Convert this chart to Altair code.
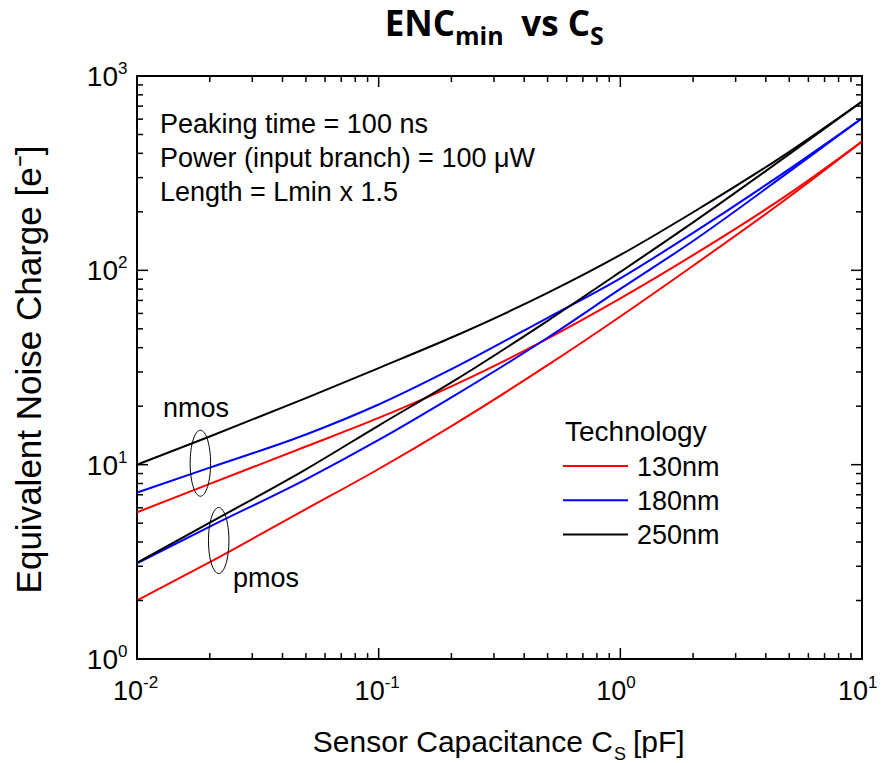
import altair as alt
import pandas as pd

# Sensor capacitance grid [pF]
cs = [0.01, 0.02, 0.05, 0.1, 0.2, 0.5, 1, 2, 5, 10]

# Minimum equivalent noise charge [e-] for each node and input-device type
nmos_130 = [5.69, 7.96, 12.4, 17.4, 25.3, 44.5, 71.7, 119.7, 248, 460]
nmos_180 = [7.18, 9.65, 14.3, 20.4, 31.0, 57.0, 91.0, 156, 332, 606]
nmos_250 = [10.0, 13.97, 22.0, 31.4, 45.1, 76.5, 120, 199, 407, 738]
pmos_130 = [2.0, 3.15, 5.9, 9.5, 15.8, 32.5, 57.9, 105.6, 239, 460]
pmos_180 = [3.11, 4.80, 8.40, 13.4, 22.2, 45.0, 80.2, 141.6, 322, 606]
pmos_250 = [3.13, 5.03, 9.46, 15.9, 26.5, 55.0, 98.1, 176.6, 396, 738]

techs = ["130nm", "180nm", "250nm"]
tech_colors = ["#ff0000", "#0000ff", "#000000"]

# Axis tick values
x_major = [0.01, 0.1, 1, 10]
x_exp = ["-2", "-1", "0", "1"]
x_minor = [0.02, 0.03, 0.04, 0.05, 0.06, 0.07, 0.08, 0.09,
           0.2, 0.3, 0.4, 0.5, 0.6, 0.7, 0.8, 0.9,
           2, 3, 4, 5, 6, 7, 8, 9]
y_major = [1, 10, 100, 1000]
y_exp = ["0", "1", "2", "3"]
y_minor = [2, 3, 4, 5, 6, 7, 8, 9,
           20, 30, 40, 50, 60, 70, 80, 90,
           200, 300, 400, 500, 600, 700, 800, 900]

notes = ["Peaking time = 100 ns", "Power (input branch) = 100 \u03bcW", "Length = Lmin x 1.5"]

rows = []
series = {
    ("nmos", "130nm"): nmos_130, ("nmos", "180nm"): nmos_180, ("nmos", "250nm"): nmos_250,
    ("pmos", "130nm"): pmos_130, ("pmos", "180nm"): pmos_180, ("pmos", "250nm"): pmos_250,
}
for (dev, tech), vals in series.items():
    for c, v in zip(cs, vals):
        rows.append({"cs": c, "enc": v, "tech": tech, "device": dev})
df = pd.DataFrame(rows)

W, H = 725, 583
FONT = "Liberation Sans"
TFONT = "Open Sans"
MAJ, MIN = 11, 6

xs = alt.Scale(type="log", domain=[0.01, 10], nice=False)
ys = alt.Scale(type="log", domain=[1, 1000], nice=False)
cscale = alt.Scale(domain=techs, range=tech_colors)

layers = []

# ENC curves
layers.append(
    alt.Chart(df).mark_line(strokeWidth=2, interpolate="monotone", clip=True).encode(
        x=alt.X("cs:Q", scale=xs, axis=None),
        y=alt.Y("enc:Q", scale=ys, axis=None),
        color=alt.Color("tech:N", scale=cscale, legend=None),
        detail="device:N",
    )
)

# Inward ticks on all four sides
def x_ticks(vals, length):
    base = alt.Chart(pd.DataFrame({"v": vals})).mark_rule(color="black", strokeWidth=1.5).encode(
        x=alt.X("v:Q", scale=xs, axis=None))
    return [base.encode(y=alt.value(H), y2=alt.value(H - length)),
            base.encode(y=alt.value(0), y2=alt.value(length))]

def y_ticks(vals, length):
    base = alt.Chart(pd.DataFrame({"v": vals})).mark_rule(color="black", strokeWidth=1.5).encode(
        y=alt.Y("v:Q", scale=ys, axis=None))
    return [base.encode(x=alt.value(0), x2=alt.value(length)),
            base.encode(x=alt.value(W), x2=alt.value(W - length))]

layers += x_ticks(x_major, MAJ) + x_ticks(x_minor, MIN)
layers += y_ticks(y_major, MAJ) + y_ticks(y_minor, MIN)

# Power-of-ten tick labels
xl = pd.DataFrame({"v": x_major, "e": x_exp, "b": ["10"] * 4})
layers.append(alt.Chart(xl).mark_text(align="right", baseline="alphabetic", font=FONT, fontSize=27, dx=6).encode(
    x=alt.X("v:Q", scale=xs), y=alt.value(H + 41), text="b:N"))
layers.append(alt.Chart(xl).mark_text(align="left", baseline="alphabetic", font=FONT, fontSize=17, dx=6).encode(
    x=alt.X("v:Q", scale=xs), y=alt.value(H + 29), text="e:N"))

yl = pd.DataFrame({"v": y_major, "e": y_exp, "b": ["10"] * 4})
layers.append(alt.Chart(yl).mark_text(align="right", baseline="alphabetic", font=FONT, fontSize=28, dy=10).encode(
    y=alt.Y("v:Q", scale=ys), x=alt.value(-19), text="b:N"))
layers.append(alt.Chart(yl).mark_text(align="left", baseline="alphabetic", font=FONT, fontSize=17, dy=-2).encode(
    y=alt.Y("v:Q", scale=ys), x=alt.value(-19), text="e:N"))

# Axis titles
layers.append(alt.Chart().mark_text(align="right", baseline="alphabetic", font=FONT, fontSize=30,
                                    text="Sensor Capacitance C").encode(x=alt.value(476), y=alt.value(H + 93)))
layers.append(alt.Chart().mark_text(align="left", baseline="alphabetic", font=FONT, fontSize=18,
                                    text="S").encode(x=alt.value(477), y=alt.value(H + 101)))
layers.append(alt.Chart().mark_text(align="left", baseline="alphabetic", font=FONT, fontSize=30,
                                    text="[pF]").encode(x=alt.value(496), y=alt.value(H + 93)))
layers.append(alt.Chart().mark_text(align="center", baseline="alphabetic", font=FONT, fontSize=35, angle=270,
                                    text="Equivalent Noise Charge [e\u207b]").encode(x=alt.value(-96), y=alt.value(H / 2 + 2)))

# Title with subscripts
layers.append(alt.Chart().mark_text(align="right", baseline="alphabetic", font=TFONT, fontWeight="bold",
                                    fontSize=35, text="ENC").encode(x=alt.value(318), y=alt.value(-40)))
layers.append(alt.Chart().mark_text(align="left", baseline="alphabetic", font=TFONT, fontWeight="bold",
                                    fontSize=25, text="min").encode(x=alt.value(318), y=alt.value(-31)))
layers.append(alt.Chart().mark_text(align="center", baseline="alphabetic", font=TFONT, fontWeight="bold",
                                    fontSize=35, text="vs").encode(x=alt.value(403), y=alt.value(-40)))
layers.append(alt.Chart().mark_text(align="right", baseline="alphabetic", font=TFONT, fontWeight="bold",
                                    fontSize=35, text="C").encode(x=alt.value(453), y=alt.value(-40)))
layers.append(alt.Chart().mark_text(align="left", baseline="alphabetic", font=TFONT, fontWeight="bold",
                                    fontSize=25, text="S").encode(x=alt.value(453), y=alt.value(-31)))

# Operating conditions
layers.append(alt.Chart().mark_text(align="left", baseline="alphabetic", font=FONT, fontSize=27,
                                    lineHeight=34, text=notes).encode(x=alt.value(23), y=alt.value(57)))

# Device-type callouts with ellipses around the curve bundles
callouts = pd.DataFrame({"cs": [0.01829, 0.02178], "enc": [10.17, 4.07]})
ellipse = "M0,-1A0.31,1,0,1,1,0,1A0.31,1,0,1,1,0,-1Z"
layers.append(alt.Chart(callouts).mark_point(shape=ellipse, size=4356, filled=False, color="black",
                                             strokeWidth=1, opacity=1).encode(
    x=alt.X("cs:Q", scale=xs), y=alt.Y("enc:Q", scale=ys)))
layers.append(alt.Chart().mark_text(align="left", baseline="alphabetic", font=FONT, fontSize=27,
                                    text="nmos").encode(x=alt.value(26), y=alt.value(341)))
layers.append(alt.Chart().mark_text(align="left", baseline="alphabetic", font=FONT, fontSize=27,
                                    text="pmos").encode(x=alt.value(96), y=alt.value(511)))

# Legend
leg = pd.DataFrame({"tech": techs, "row": [0, 1, 2]})
layers.append(alt.Chart().mark_text(align="left", baseline="alphabetic", font=FONT, fontSize=28,
                                    text="Technology").encode(x=alt.value(428), y=alt.value(365)))
layers.append(alt.Chart(leg).transform_calculate(ly="390 + 34.2 * datum.row").mark_rule(strokeWidth=2).encode(
    x=alt.value(426), x2=alt.value(491), y=alt.Y("ly:Q", scale=None),
    color=alt.Color("tech:N", scale=cscale, legend=None)))
layers.append(alt.Chart(leg).transform_calculate(ly="399.5 + 34.2 * datum.row").mark_text(
    align="left", baseline="alphabetic", font=FONT, fontSize=27, color="black").encode(
    x=alt.value(500), y=alt.Y("ly:Q", scale=None), text="tech:N"))

chart = alt.layer(*layers).properties(
    width=W, height=H,
    autosize=alt.AutoSizeParams(type="none"),
    padding={"left": 137, "top": 76, "right": 21, "bottom": 104},
    background="white",
).configure_view(stroke="black", strokeWidth=2)

chart.save("out.html", embed_options={"renderer": "svg", "actions": False})
